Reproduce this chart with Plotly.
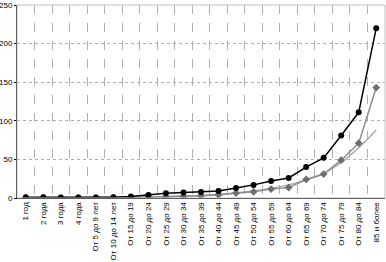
import plotly.graph_objects as go

categories = ["1 год", "2 года", "3 года", "4 года", "От 5 до 9 лет", "От 10 до 14 лет",
              "От 15 до 19", "От 20 до 24", "От 25 до 29", "От 30 до 34", "От 35 до 39",
              "От 40 до 44", "От 45 до 49", "От 50 до 54", "От 55 до 59", "От 60 до 64",
              "От 65 до 69", "От 70 до 74", "От 75 до 79", "От 80 до 84", "85 и более"]
series_main = [1, 1, 0.5, 0.5, 0.5, 1, 2, 4, 6, 7, 7.7, 9, 13, 17, 22, 26, 40, 52, 81, 111, 220]
series_second = [0.3, 0.3, 0.2, 0.2, 0.2, 0.3, 0.5, 1, 1.5, 2, 3, 4, 6.5, 8, 11.5, 13.5, 24, 31, 49, 71, 143]
series_trend = [0.2, 0.2, 0.3, 0.3, 0.4, 0.6, 0.9, 1.3, 1.8, 2.5, 3.4, 4.7, 6.5, 9, 12.5, 17, 23.5, 32, 46, 65, 88]
y_ticks = [0, 50, 100, 150, 200, 250]

fig = go.Figure()
fig.add_trace(go.Scatter(x=categories, y=series_trend, mode="lines", line=dict(color="#a8a8a8", width=1.5, shape="spline"), showlegend=False))
fig.add_trace(go.Scatter(x=categories, y=series_second, mode="lines+markers",
                         line=dict(color="#8c8c8c", width=1.5),
                         marker=dict(symbol="diamond", size=6, color="#6e6e6e"), showlegend=False))
fig.add_trace(go.Scatter(x=categories, y=series_main, mode="lines+markers",
                         line=dict(color="#000000", width=1.5),
                         marker=dict(symbol="circle", size=6, color="#000000"), showlegend=False))

fig.update_layout(
    width=386, height=262, autosize=False,
    margin=dict(l=17, r=1, t=5, b=64, pad=0),
    paper_bgcolor="white", plot_bgcolor="white",
    font=dict(family="Liberation Sans, Arial", size=8, color="#000000"),
    xaxis=dict(type="category", categoryorder="array", categoryarray=categories,
               range=[-0.5, len(categories) - 0.5],
               tickson="boundaries", showgrid=True, gridcolor="#b0b0b0",
               griddash="dash", gridwidth=1, tickangle=-90, ticks="", showline=True,
               linecolor="#000000", linewidth=1, tickfont=dict(size=8),
               ticklabelstandoff=0, automargin=False),
    yaxis=dict(range=[0, 250], tickvals=y_ticks, showgrid=True, gridcolor="#b0b0b0",
               griddash="dot", showline=True, linecolor="#000000", linewidth=1,
               ticks="outside", ticklen=2, tickcolor="#000000", zeroline=False,
               tickfont=dict(size=8), automargin=False),
    shapes=[dict(type="rect", xref="paper", yref="paper", x0=0, y0=0, x1=1, y1=1,
                 line=dict(color="#c0c0c0", width=1))],
)

fig.write_html("out.html", config={"displayModeBar": False},
               post_script="document.body.style.margin='0px';")
